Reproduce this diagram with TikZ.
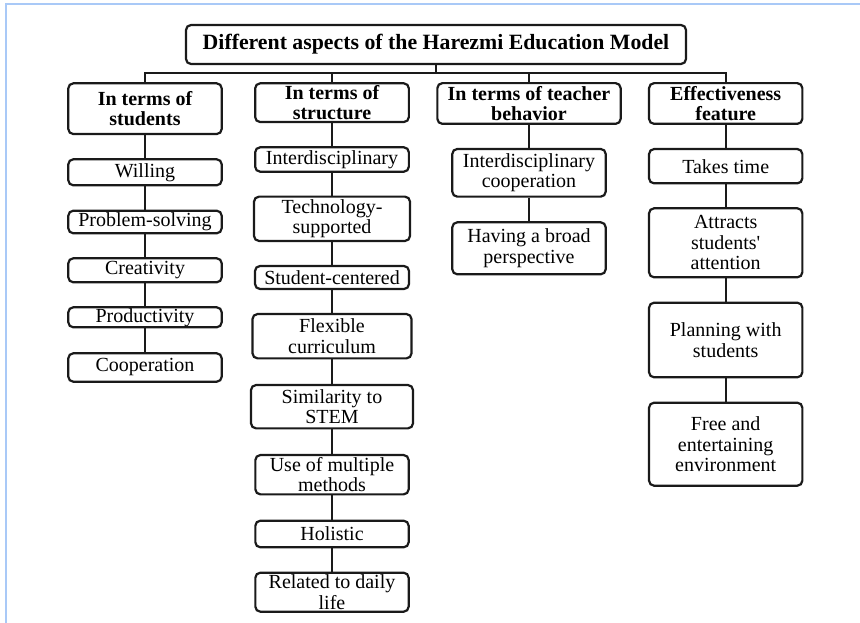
\documentclass[tikz,border=0pt]{standalone}
\usepackage{fontspec}
\setmainfont{Liberation Serif}
\newfontfamily\plainser{Liberation Serif}
\usepackage{tikz}
\definecolor{framecol}{HTML}{A9C9F7}
\definecolor{boxline}{HTML}{1A1A1A}
\tikzset{
  box/.style={draw=boxline, line width=2.2pt, rounded corners=5pt, align=center,
    inner sep=0pt, font=\fontsize{20}{20.5}\selectfont},
  headbox/.style={box, font=\fontsize{20}{20.5}\selectfont\bfseries},
  link/.style={draw=boxline, line width=2.2pt}
}

\begin{document}
\begin{tikzpicture}[x=1pt, y=-1pt]
\useasboundingbox (0,0) rectangle (860,623);
\draw[framecol, line width=1.6pt] (6,623) -- (6,4) -- (860,4);

\node[headbox, minimum width=500, minimum height=39] (title) at (436,44.5)
  {\fontsize{21.8}{22}\selectfont Different aspects of the Harezmi Education Model};
\node[headbox, minimum width=153.4, minimum height=50.7] (h1) at (145,108.7) {In terms of\\students};
\node[headbox, minimum width=153.7, minimum height=38.7] (h2) at (332,102.7) {In terms of\\structure};
\node[headbox, minimum width=183.3, minimum height=40.7] (h3) at (529,103.5) {In terms of teacher\\behavior};
\node[headbox, minimum width=153.3, minimum height=40.7] (h4) at (725.7,103.5) {Effectiveness\\feature};

% students
\node[box, minimum width=153.4, minimum height=26]   (s1) at (145,172.3) {Willing};
\node[box, minimum width=153.4, minimum height=22.6] (s2) at (145,222)   {Problem-solving};
\node[box, minimum width=153.4, minimum height=24]   (s3) at (145,270.3) {Creativity};
\node[box, minimum width=153.4, minimum height=20]   (s4) at (145,317.3) {Productivity};
\node[box, minimum width=153.4, minimum height=28.4] (s5) at (145,367.5) {Cooperation};

% structure
\node[box, minimum width=153.7, minimum height=24.4] (r1) at (332,159.5) {Interdisciplinary};
\node[box, minimum width=156,   minimum height=44.3] (r2) at (332,218.8) {Technology-\\supported};
\node[box, minimum width=154,   minimum height=23]   (r3) at (332,277.5) {Student-centered};
\node[box, minimum width=159,   minimum height=44.3] (r4) at (332,336.2) {Flexible\\curriculum};
\node[box, minimum width=162,   minimum height=43.3] (r5) at (332,406.7) {Similarity to\\STEM};
\node[box, minimum width=153.3, minimum height=39.3] (r6) at (332,474.7) {Use of multiple\\methods};
\node[box, minimum width=153.3, minimum height=26.6] (r7) at (332,534)   {Holistic};
\node[box, minimum width=153.3, minimum height=39]   (r8) at (332,592.2) {Related to daily\\life};

% teacher behavior
\node[box, minimum width=153.4, minimum height=47.7] (t1) at (529,172.8) {Interdisciplinary\\cooperation};
\node[box, minimum width=153.4, minimum height=52]   (t2) at (529,248.3) {Having a broad\\perspective};

% effectiveness
\node[box, minimum width=153.3, minimum height=34.3] (e1) at (725.7,166.2) {Takes time};
\node[box, minimum width=153.3, minimum height=69]   (e2) at (725.7,242.8) {Attracts\\students{\plainser '}\\attention};
\node[box, minimum width=153.3, minimum height=74.6] (e3) at (725.7,340)   {Planning with\\students};
\node[box, minimum width=153.3, minimum height=83]   (e4) at (725.7,444.2) {Free and\\entertaining\\environment};

\coordinate (bus) at (436,72.7);
\draw[link] (title) -- (bus);
\foreach \h in {h1,h2,h3,h4}
{
  \draw[link] (bus) -| (\h);
}
\foreach \a/\b in {h1/s1,s1/s2,s2/s3,s3/s4,s4/s5,
                   h2/r1,r1/r2,r2/r3,r3/r4,r4/r5,r5/r6,r6/r7,r7/r8,
                   h3/t1,t1/t2,
                   h4/e1,e1/e2,e2/e3,e3/e4}
{
  \draw[link] (\a) -- (\b);
}
\end{tikzpicture}
\end{document}
